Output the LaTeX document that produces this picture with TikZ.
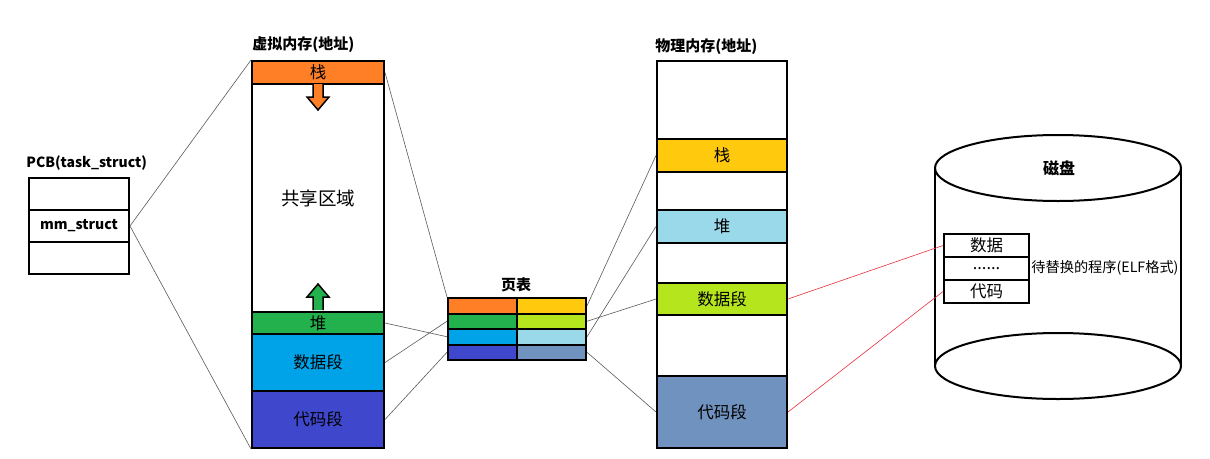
\documentclass[tikz,border=0pt]{standalone}
\usepackage{fontspec}
\setmainfont{Noto Sans CJK SC}
\definecolor{segorange}{HTML}{FF7F27}
\definecolor{seggreen}{HTML}{22B14C}
\definecolor{segblue}{HTML}{00A2E8}
\definecolor{segindigo}{HTML}{3F48CC}
\definecolor{segyellow}{HTML}{FFC90E}
\definecolor{seglime}{HTML}{B5E61D}
\definecolor{segsky}{HTML}{99D9EA}
\definecolor{segsteel}{HTML}{7092BE}
\definecolor{swapred}{HTML}{E8303A}

\begin{document}
\begin{tikzpicture}[x=1pt, y=-1pt, thick,
  band/.style={draw, line width=2pt, anchor=north west, inner sep=0pt,
    font=\fontsize{16.5}{18}\selectfont},
  vband/.style={band, minimum width=132pt},
  pband/.style={band, minimum width=130pt},
  cell/.style={draw, line width=2pt, anchor=north west, inner sep=0pt,
    minimum width=69pt, minimum height=15.5pt},
  pcbrow/.style={draw, line width=2pt, anchor=north west, inner sep=0pt,
    minimum width=100pt, minimum height=32pt, font=\bfseries\fontsize{14}{16}\selectfont},
  diskrow/.style={draw, line width=2pt, anchor=north west, inner sep=0pt,
    minimum width=85pt, minimum height=23pt, font=\fontsize{16.5}{18}\selectfont},
  title/.style={anchor=west, inner sep=0pt, font=\bfseries\fontsize{15}{18}\selectfont},
  link/.style={draw=black!65, line width=0.6pt},
  swaplink/.style={draw=swapred, line width=0.6pt},
  growarrow/.style={draw, line width=1.5pt, line join=miter}]
  \useasboundingbox (0,0) rectangle (1210,458);

  % PCB
  \node[title, font=\bfseries\fontsize{14}{16}\selectfont] (pcbtitle) at (26,163) {PCB(task\_struct)};
  \node[pcbrow] (pcb1) at (28,177) {};
  \node[pcbrow] (mm)   at (28,209) {mm\_struct};
  \node[pcbrow] (pcb3) at (28,241) {};

  % virtual memory
  \node[title] (vtitle) at (252,45) {虚拟内存(地址)};
  \node[vband, minimum height=23pt, fill=segorange] (vstack) at (251,60) {栈};
  \node[vband, minimum height=228pt, font=\fontsize{18.5}{20}\selectfont] (vshare) at (251,83) {共享区域};
  \node[vband, minimum height=22pt, fill=seggreen] (vheap) at (251,311) {堆};
  \node[vband, minimum height=57pt, fill=segblue] (vdata) at (251,333) {数据段};
  \node[vband, minimum height=57pt, fill=segindigo] (vcode) at (251,390) {代码段};

  \filldraw[growarrow, fill=segorange] (313,84) -- (313,97) -- (307,97) -- (318,110)
    -- (329,97) -- (323,97) -- (323,84);
  \filldraw[growarrow, fill=seggreen] (313,310) -- (313,297) -- (307,297) -- (318,284)
    -- (329,297) -- (323,297) -- (323,310);

  % page table
  \node[anchor=south, inner sep=0pt, font=\bfseries\fontsize{15}{18}\selectfont] (pttitle) at (516,292) {页表};
  \foreach \i/\lc/\rc in {1/segorange/segyellow, 2/seggreen/seglime,
                          3/segblue/segsky, 4/segindigo/segsteel} {
    \node[cell, fill=\lc] (pt-l\i) at (447,{297+(\i-1)*15.5}) {};
    \node[cell, fill=\rc] (pt-r\i) at (516,{297+(\i-1)*15.5}) {};
  }

  % physical memory
  \node[title] (ptitle) at (655,47) {物理内存(地址)};
  \node[pband, minimum height=78pt] (ptop) at (656,60) {};
  \node[pband, minimum height=33pt, fill=segyellow] (pstack) at (656,138) {栈};
  \node[pband, minimum height=38pt] (pgap1) at (656,171) {};
  \node[pband, minimum height=33pt, fill=segsky] (pheap) at (656,209) {堆};
  \node[pband, minimum height=40pt] (pgap2) at (656,242) {};
  \node[pband, minimum height=32pt, fill=seglime] (pdata) at (656,282) {数据段};
  \node[pband, minimum height=61pt] (pgap3) at (656,314) {};
  \node[pband, minimum height=72pt, fill=segsteel] (pcode) at (656,375) {代码段};

  % disk
  \draw[line width=2pt] (1058,168) ellipse [x radius=123, y radius=33];
  \draw[line width=2pt] (935,168) -- (935,366);
  \draw[line width=2pt] (1181,168) -- (1181,366);
  \draw[line width=2pt] (1058,366) ellipse [x radius=123, y radius=33];
  \node[inner sep=0pt, font=\bfseries\fontsize{16}{18}\selectfont] (disk) at (1059,168) {磁盘};
  \node[diskrow] (dk-data) at (943,233) {数据};
  \node[diskrow] (dk-dots) at (943,256) {......};
  \node[diskrow] (dk-code) at (943,279) {代码};
  \node[anchor=west, inner sep=0pt, font=\fontsize{14.2}{18}\selectfont] (elf) at (1031,268) {待替换的程序(ELF格式)};

  % connectors
  \draw[link] (mm.east) -- (vstack.north west);
  \draw[link] (mm.east) -- (vcode.south west);
  \draw[link] (vstack.east) -- (pt-l1.north west);
  \draw[link] (vheap.east) -- (pt-l3.west);
  \draw[link] (vdata.east) -- (pt-l2.west);
  \draw[link] (vcode.east) -- (pt-l4.west);
  \draw[link] (pt-r1.east) -- (pstack.west);
  \draw[link] (pt-r2.east) -- (pdata.west);
  \draw[link] (pt-r3.east) -- (pheap.west);
  \draw[link] (pt-r4.east) -- (pcode.west);
  \draw[swaplink] (pdata.east) -- (dk-data.west);
  \draw[swaplink] (pcode.east) -- (dk-code.west);
\end{tikzpicture}
\end{document}
